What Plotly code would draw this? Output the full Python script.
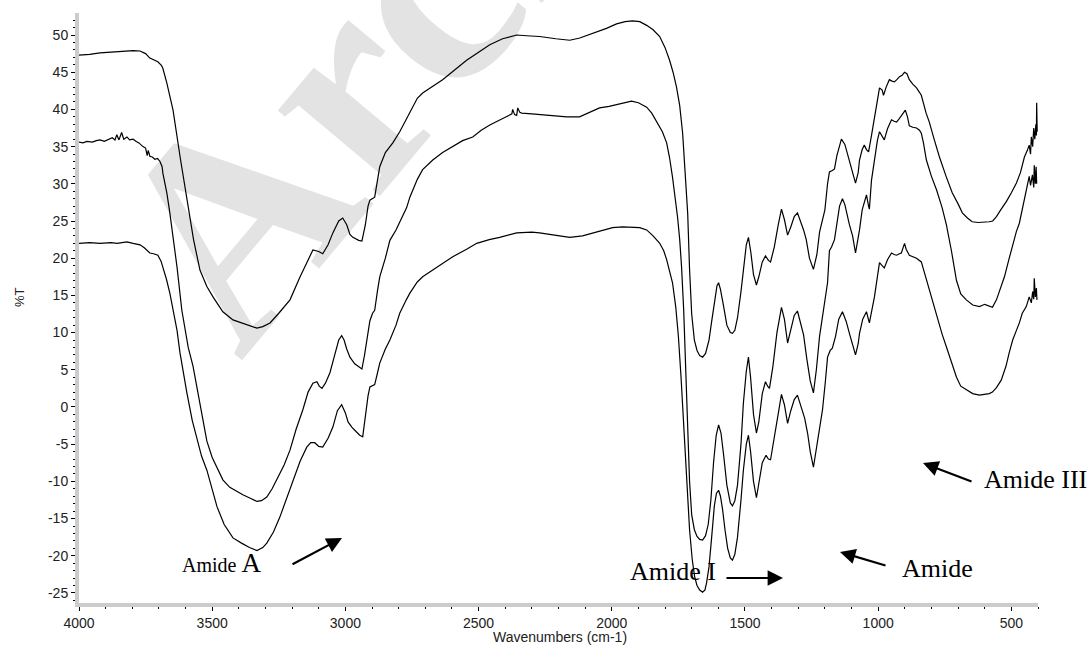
import plotly.graph_objects as go

# ---------------- data ----------------
g1_wn = [4000, 3960, 3921, 3880, 3858, 3820, 3797, 3771, 3750, 3734, 3715, 3704, 3690, 3685, 3670, 3647, 3620, 3595, 3570, 3546,
         3520, 3497, 3460, 3422, 3380, 3350, 3332, 3310, 3283, 3250, 3208, 3170, 3140, 3122, 3100, 3085, 3065, 3047, 3025, 3010,
         2995, 2983, 2972, 2950, 2938, 2925, 2915, 2908, 2890, 2880, 2871, 2850, 2822, 2796, 2760, 2730, 2710, 2670, 2635, 2590,
         2545, 2500, 2458, 2410, 2357, 2320, 2271, 2210, 2158, 2120, 2072, 2020, 1982, 1950, 1922, 1895, 1869, 1845, 1820, 1800,
         1783, 1770, 1757, 1745, 1734, 1725, 1719, 1715, 1708, 1700, 1690, 1680, 1670, 1659, 1648, 1635, 1625, 1614, 1605, 1599,
         1592, 1580, 1568, 1555, 1547, 1538, 1528, 1515, 1506, 1495, 1487, 1478, 1468, 1457, 1448, 1435, 1423, 1412, 1404, 1390,
         1375, 1363, 1352, 1340, 1328, 1315, 1303, 1292, 1280, 1270, 1258, 1243, 1230, 1220, 1209, 1200, 1190, 1183, 1172, 1164,
         1155, 1145, 1138, 1125, 1108, 1095, 1085, 1075, 1070, 1060, 1052, 1044, 1036, 1025, 1014, 1003, 995, 985, 980, 970,
         958, 948, 939, 930, 920, 910, 901, 892, 883, 870, 856, 845, 838, 820, 808, 790, 770, 745, 722, 700,
         684, 665, 647, 625, 600, 583, 570, 556, 540, 519, 500, 481, 466, 451, 440, 433, 428, 425, 420, 416,
         412, 408, 406, 405, 403]
g1_t = [47.3, 47.4, 47.6, 47.7, 47.8, 47.9, 47.9, 47.85, 47.5, 46.9, 46.6, 46.4, 45.9, 45.5, 43.5, 39.9, 33.5, 27.8, 22.5, 18.4,
        16.2, 14.8, 12.8, 11.7, 11.2, 10.8, 10.6, 10.8, 11.3, 12.6, 14.4, 17.5, 19.8, 21.1, 20.9, 20.6, 21.8, 23.4, 25.0, 25.4,
        24.5, 23.2, 22.8, 22.4, 22.3, 24.5, 27.0, 27.8, 28.2, 30.5, 32.3, 34.2, 35.5, 37.0, 39.5, 41.5, 42.2, 43.2, 44.0, 45.3,
        46.6, 47.7, 48.7, 49.5, 50.0, 49.9, 49.8, 49.5, 49.3, 49.6, 50.2, 50.9, 51.5, 51.8, 51.9, 51.8, 51.3, 50.7, 49.8, 48.3,
        46.6, 45.0, 43.0, 40.5, 36.8, 32.0, 28.5, 26.0, 18.5, 12.5, 9.0, 7.6, 6.9, 6.7, 7.2, 9.0, 11.5, 14.5, 16.3, 16.7,
        15.8, 13.5, 11.0, 10.0, 9.9, 10.3, 12.0, 15.5, 18.5, 21.8, 22.8, 20.8, 17.8, 16.4, 17.5, 19.5, 20.3, 19.7, 19.5, 21.5,
        24.5, 26.6, 25.2, 23.1, 24.2, 25.6, 26.1, 25.0, 23.8, 22.5, 20.0, 18.5, 20.5, 23.5, 25.1, 26.5, 30.0, 31.6, 31.8, 32.0,
        33.8, 35.3, 36.0, 35.3, 33.2, 31.5, 30.1, 31.5, 33.2, 34.6, 35.2, 34.6, 34.3, 36.5, 39.0, 41.5, 42.9, 42.6, 41.9, 43.0,
        44.0, 43.8, 43.7, 44.0, 44.4, 44.6, 45.0, 44.8, 44.0, 43.4, 42.9, 42.3, 41.9, 39.5, 38.3, 36.0, 33.6, 31.0, 28.8, 27.3,
        26.1, 25.4, 24.9, 24.8, 24.8, 24.9, 25.0, 25.6, 26.5, 27.6, 28.8, 30.1, 31.5, 33.6, 34.5, 35.2, 34.0, 36.3, 35.0, 37.5,
        36.0, 38.0, 36.5, 40.9, 37.0]

g2_wn = [4000, 3985, 3970, 3950, 3935, 3921, 3905, 3890, 3875, 3865, 3858, 3850, 3840, 3832, 3820, 3810, 3797, 3785, 3775, 3760,
         3750, 3744, 3740, 3734, 3725, 3715, 3705, 3696, 3688, 3685, 3678, 3670, 3659, 3645, 3632, 3614, 3602, 3590, 3572, 3546,
         3520, 3500, 3482, 3460, 3434, 3410, 3385, 3355, 3332, 3315, 3295, 3275, 3257, 3230, 3208, 3185, 3160, 3140, 3122, 3107,
         3098, 3088, 3075, 3058, 3040, 3025, 3014, 3005, 2995, 2983, 2965, 2950, 2938, 2928, 2920, 2908, 2898, 2890, 2880, 2871,
         2850, 2833, 2810, 2796, 2770, 2758, 2730, 2710, 2672, 2635, 2597, 2560, 2522, 2490, 2458, 2420, 2383, 2375, 2372, 2365,
         2357, 2353, 2345, 2338, 2300, 2271, 2220, 2169, 2121, 2080, 2046, 2010, 1982, 1950, 1926, 1900, 1869, 1850, 1828, 1810,
         1794, 1783, 1772, 1760, 1753, 1745, 1738, 1730, 1722, 1715, 1708, 1700, 1690, 1680, 1670, 1659, 1648, 1638, 1628, 1618,
         1608, 1599, 1590, 1580, 1568, 1555, 1547, 1538, 1528, 1515, 1506, 1495, 1487, 1479, 1468, 1457, 1448, 1435, 1423, 1415,
         1408, 1395, 1380, 1363, 1352, 1340, 1328, 1315, 1303, 1292, 1280, 1268, 1255, 1243, 1232, 1220, 1209, 1200, 1190, 1183,
         1175, 1164, 1155, 1145, 1134, 1125, 1108, 1096, 1085, 1075, 1070, 1060, 1044, 1036, 1033, 1025, 1014, 1003, 995, 985,
         977, 965, 950, 940, 931, 920, 913, 905, 898, 890, 883, 870, 856, 845, 838, 830, 819, 800, 781, 760,
         744, 725, 706, 690, 669, 645, 620, 600, 583, 571, 556, 540, 526, 508, 500, 481, 470, 459, 444, 433,
         428, 421, 416, 414, 410, 407, 405]
g2_t = [35.6, 35.5, 35.7, 35.6, 35.8, 35.9, 35.7, 36.0, 36.2, 35.9, 36.6, 35.9, 36.9, 36.0, 36.3, 35.9, 36.0, 35.7, 35.5, 35.0,
        34.8, 33.8, 34.5, 33.7, 33.6, 33.3, 33.4, 33.0, 32.3, 31.4, 30.2, 28.7, 26.1, 22.5, 18.8, 13.0, 10.3, 8.0, 5.5, 0.5,
        -4.6, -6.8, -8.1, -9.8, -10.8, -11.3, -11.8, -12.3, -12.7, -12.6, -12.1, -11.0, -9.8, -7.8, -5.8, -3.0, -0.4, 2.0, 3.2, 3.4,
        2.8, 2.5, 3.2, 4.6, 7.0, 9.0, 9.6, 9.0, 7.8, 6.7, 5.8, 5.4, 5.1, 7.0, 9.0, 11.6, 12.6, 13.0, 15.5, 17.5,
        20.0, 22.4, 23.8, 24.9, 26.8, 28.2, 30.6, 31.9, 33.2, 34.2, 35.0, 35.8, 36.3, 37.2, 37.9, 38.6, 39.2, 39.4, 40.0, 39.3,
        39.2, 40.2, 39.6, 39.5, 39.4, 39.3, 39.2, 39.0, 39.0, 39.6, 40.2, 40.4, 40.6, 40.9, 41.1, 40.9, 40.3, 39.5, 38.2, 37.0,
        35.5, 33.5, 30.9, 27.8, 25.5, 22.5, 18.8, 13.0, 5.0, -2.0, -10.0, -14.5, -16.5, -17.4, -17.8, -17.9, -17.3, -15.8, -12.5, -7.5,
        -3.8, -2.4, -3.5, -6.5, -10.5, -12.9, -13.3, -12.6, -10.5, -5.0, 0.5, 4.8, 6.7, 4.0, -1.0, -3.5, -2.0, 1.8, 3.4, 2.8,
        2.5, 5.5, 10.0, 13.4, 11.8, 8.6, 10.6, 12.3, 12.9, 11.5, 9.7, 6.5, 3.5, 1.9, 5.0, 9.5, 12.0, 14.0, 16.7, 21.0,
        21.5, 22.5, 24.5, 27.0, 28.0, 27.2, 24.5, 23.0, 20.7, 22.5, 23.8, 26.5, 28.5, 27.0, 26.6, 30.5, 33.2, 35.8, 37.0, 36.4,
        35.9, 37.4, 38.6, 38.4, 38.3, 38.8, 39.2, 39.6, 39.9, 39.0, 37.8, 37.6, 37.5, 37.2, 36.8, 35.5, 33.2, 31.0, 29.2, 26.8,
        24.5, 21.0, 17.0, 15.2, 14.4, 13.7, 13.5, 13.8, 13.6, 13.4, 14.4, 16.0, 17.5, 20.0, 21.1, 23.6, 24.7, 26.5, 28.8, 31.0,
        29.8, 31.2, 29.5, 32.5, 30.0, 32.3, 30.0]

g3_wn = [4000, 3960, 3921, 3880, 3857, 3820, 3797, 3771, 3755, 3740, 3734, 3720, 3704, 3692, 3685, 3672, 3659, 3645, 3632, 3621,
         3608, 3595, 3575, 3557, 3540, 3520, 3500, 3482, 3455, 3422, 3390, 3360, 3332, 3310, 3295, 3270, 3246, 3220, 3197, 3170,
         3145, 3130, 3115, 3100, 3085, 3065, 3047, 3030, 3014, 3000, 2990, 2976, 2960, 2946, 2935, 2925, 2915, 2908, 2890, 2880,
         2871, 2850, 2833, 2810, 2796, 2770, 2758, 2730, 2710, 2672, 2635, 2597, 2545, 2507, 2460, 2421, 2357, 2300, 2271, 2210,
         2158, 2110, 2072, 2030, 1997, 1960, 1922, 1895, 1869, 1845, 1820, 1805, 1794, 1783, 1772, 1760, 1750, 1740, 1730, 1719,
         1708, 1698, 1689, 1680, 1670, 1659, 1650, 1644, 1635, 1625, 1615, 1607, 1599, 1592, 1584, 1575, 1565, 1555, 1547, 1538,
         1528, 1515, 1506, 1495, 1487, 1479, 1468, 1457, 1448, 1435, 1421, 1412, 1404, 1390, 1375, 1363, 1352, 1340, 1328, 1315,
         1303, 1292, 1276, 1265, 1255, 1243, 1232, 1220, 1209, 1198, 1190, 1180, 1172, 1160, 1148, 1134, 1120, 1108, 1096, 1085,
         1075, 1070, 1058, 1044, 1033, 1025, 1014, 1003, 995, 985, 977, 965, 950, 940, 931, 920, 913, 901, 895, 883,
         870, 856, 838, 830, 819, 800, 781, 760, 744, 725, 706, 690, 669, 645, 620, 600, 583, 571, 556, 538,
         520, 508, 495, 481, 470, 459, 444, 433, 425, 420, 416, 414, 410, 406, 404]
g3_t = [22.0, 22.1, 22.0, 22.1, 22.0, 22.2, 22.0, 21.8, 21.4, 20.8, 20.7, 20.6, 20.4, 19.6, 18.8, 17.2, 15.3, 12.8, 10.3, 7.3,
        4.5, 1.9, -1.8, -4.4, -6.6, -8.5, -11.2, -13.4, -15.8, -17.6, -18.3, -18.9, -19.3, -18.9, -18.3, -16.8, -14.8, -12.3, -9.8, -7.3,
        -5.4, -4.8, -4.8, -5.3, -5.4, -4.2, -2.7, -0.5, 0.3, -0.8, -2.0, -2.7, -3.3, -3.8, -4.0, -1.0, 1.5, 2.7, 3.0, 4.5,
        5.9, 7.8, 9.0, 11.0, 12.6, 14.5, 15.3, 16.8, 17.5, 18.4, 19.3, 20.2, 21.2, 22.0, 22.5, 22.8, 23.4, 23.5, 23.4, 23.1,
        22.8, 23.0, 23.4, 23.8, 24.1, 24.2, 24.2, 24.1, 23.8, 23.0, 22.0, 21.0, 19.8, 18.4, 16.7, 13.5, 9.5, 4.0, -3.0, -10.5,
        -16.5, -20.5, -22.8, -24.0, -24.6, -24.9, -24.6, -23.6, -21.5, -17.5, -13.3, -11.6, -11.2, -12.0, -13.8, -16.5, -19.0, -20.3, -20.6, -19.8,
        -17.5, -12.5, -8.5, -5.0, -3.8, -6.0, -10.0, -12.2, -10.5, -7.5, -6.5, -7.0, -7.1, -4.0, -0.5, 1.7, 0.3, -2.2, -0.5, 1.0,
        1.6, 0.3, -1.5, -3.5, -6.0, -8.1, -5.5, -2.5, -0.4, 3.5, 6.7, 7.6, 7.9, 9.5, 11.8, 12.8, 11.5, 9.9, 8.5, 7.0,
        8.5, 9.9, 11.8, 12.8, 11.3, 12.8, 14.8, 17.5, 19.4, 19.0, 18.7, 19.8, 20.7, 20.5, 20.4, 20.6, 20.7, 22.0, 21.2, 20.4,
        20.2, 20.0, 19.5, 18.5, 17.1, 14.8, 12.6, 9.8, 8.1, 6.0, 4.0, 2.8, 2.3, 1.8, 1.6, 1.7, 1.8, 2.0, 2.6, 3.6,
        5.5, 7.3, 9.0, 10.3, 11.3, 12.6, 13.5, 14.8, 14.0, 15.5, 14.5, 17.3, 14.8, 16.0, 14.4]

series_names = ["G1", "G2", "G3"]
x_tickvals = [4000, 3500, 3000, 2500, 2000, 1500, 1000, 500]
y_tickvals = [-25, -20, -15, -10, -5, 0, 5, 10, 15, 20, 25, 30, 35, 40, 45, 50]
y_ticktext = [str(v) for v in y_tickvals]
band_labels = ["Amide A", "Amide I", "Amide", "Amide III"]

# ---------------- layout geometry ----------------
W, H = 1090, 646
L, R, T, B = 79, 1038, 13, 603
XR = [4000, 400]
YR = [-26.35, 52.96]


def px2x(px):
    return XR[0] + (px - L) / (R - L) * (XR[1] - XR[0])


def py2y(py):
    return YR[1] - (py - T) / (B - T) * (YR[1] - YR[0])


fig = go.Figure()
for name, xs, ys in zip(series_names, [g1_wn, g2_wn, g3_wn], [g1_t, g2_t, g3_t]):
    fig.add_trace(go.Scatter(x=xs, y=ys, mode="lines", name=name,
                             line=dict(color="#000000", width=1.2), showlegend=False))

serif = "Liberation Serif, Times New Roman, serif"
sans = "Liberation Sans, Arial, sans-serif"

ann = []
# series labels
for name, (cx, cy) in zip(series_names, [(1067, 131), (1068, 178), (1068, 289)]):
    ann.append(dict(x=px2x(cx), y=py2y(cy), text=name, showarrow=False,
                    font=dict(family=serif, size=26, color="#000"), xanchor="center", yanchor="middle"))
# band labels
ann.append(dict(x=px2x(221), y=py2y(563), text="Amide <span style='font-size:27px'>A</span>", showarrow=False,
                font=dict(family=serif, size=20, color="#000"), xanchor="center", yanchor="middle"))
ann.append(dict(x=px2x(673), y=py2y(571), text=band_labels[1], showarrow=False,
                font=dict(family=serif, size=26, color="#000"), xanchor="center", yanchor="middle"))
ann.append(dict(x=px2x(937), y=py2y(568), text=band_labels[2], showarrow=False,
                font=dict(family=serif, size=26, color="#000"), xanchor="center", yanchor="middle"))
ann.append(dict(x=px2x(1035), y=py2y(479), text=band_labels[3], showarrow=False,
                font=dict(family=serif, size=26, color="#000"), xanchor="center", yanchor="middle"))
# arrows (tail -> head)
for (tx, ty), (hx, hy) in [((291, 565), (342, 538)), ((725, 578), (783, 578)),
                           ((887, 566), (840, 552)), ((973, 482), (923, 463))]:
    ann.append(dict(x=px2x(hx), y=py2y(hy), ax=px2x(tx), ay=py2y(ty), axref="x", ayref="y",
                    xref="x", yref="y", text="", showarrow=True, arrowhead=2, arrowsize=1.4,
                    arrowwidth=2.2, arrowcolor="#000", standoff=0, startstandoff=0))
# axis titles
ann.append(dict(xref="paper", yref="paper", x=(560 - L) / (R - L), y=(B - 637) / (B - T),
                text="Wavenumbers (cm-1)", showarrow=False, font=dict(family=sans, size=14, color="#222"),
                xanchor="center", yanchor="middle"))
ann.append(dict(xref="paper", yref="paper", x=(19 - L) / (R - L), y=(B - 297) / (B - T),
                text="%T", showarrow=False, textangle=-90, font=dict(family=sans, size=13, color="#222"),
                xanchor="center", yanchor="middle"))

# watermark (drawn beneath the spectra)
wx, wy = 455, -95
shapes = [dict(type="rect", xref="paper", yref="paper",
               x0=(wx - L) / (R - L) - 0.05, x1=(wx - L) / (R - L) + 0.05,
               y0=(B - wy) / (B - T) - 0.05, y1=(B - wy) / (B - T) + 0.05,
               line=dict(width=0), fillcolor="rgba(0,0,0,0)", layer="below",
               label=dict(text="Archive", textangle=-50, textposition="middle center",
                          font=dict(family=serif, size=290, color="#e3e3e3", weight="bold")))]

axis_common = dict(showgrid=False, zeroline=False, showline=True, linecolor="#cccccc", linewidth=4,
                   ticks="outside", tickcolor="#000", ticklen=4, tickwidth=1,
                   tickfont=dict(family=sans, size=14, color="#222"))

fig.update_layout(
    width=W, height=H,
    margin=dict(l=L, r=W - R, t=T, b=H - B, pad=0),
    paper_bgcolor="#ffffff", plot_bgcolor="rgba(0,0,0,0)",
    xaxis=dict(range=XR, tickvals=x_tickvals, ticktext=[str(v) for v in x_tickvals],
               minor=dict(dtick=100, tick0=0, ticks="outside", ticklen=2, tickcolor="#000", tickwidth=1),
               **axis_common),
    yaxis=dict(range=YR, tickvals=y_tickvals, ticktext=y_ticktext,
               minor=dict(dtick=1, tick0=0, ticks="outside", ticklen=2, tickcolor="#000", tickwidth=1),
               **axis_common),
    annotations=ann, shapes=shapes,
)

fig.write_html("out.html", config={"displayModeBar": False},
               post_script="document.body.style.margin='0';document.body.style.overflow='hidden';")
